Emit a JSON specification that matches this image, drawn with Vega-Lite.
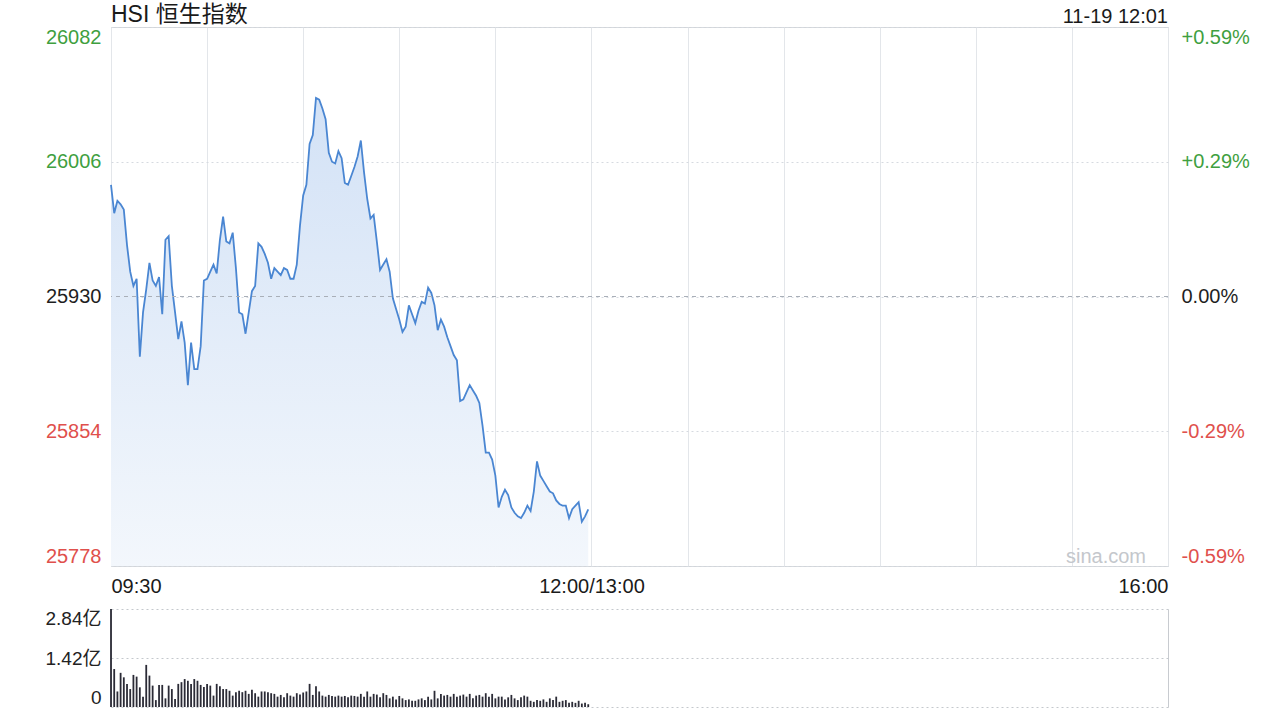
{
  "$schema": "https://vega.github.io/schema/vega-lite/v6.json",
  "background": "white",
  "padding": {"left": 38, "top": 3, "right": 10, "bottom": 8},
  "config": {
    "font": "Liberation Sans, Noto Sans CJK SC",
    "view": {"stroke": "#d2d5d9"},
    "axis": {"ticks": false, "domain": false, "title": null}
  },
  "bounds": "flush",
  "spacing": 43,
  "datasets": {
    "price": [
      {"t":0,"price":25993},{"t":1,"price":25977},{"t":2,"price":25984},{"t":3,"price":25982},{"t":4,"price":25979},
      {"t":5,"price":25959},{"t":6,"price":25944},{"t":7,"price":25936},{"t":8,"price":25940},{"t":9,"price":25896},
      {"t":10,"price":25921},{"t":11,"price":25934},{"t":12,"price":25949},{"t":13,"price":25939},{"t":14,"price":25936},
      {"t":15,"price":25941},{"t":16,"price":25920},{"t":17,"price":25962},{"t":18,"price":25964},{"t":19,"price":25936},
      {"t":20,"price":25921},{"t":21,"price":25906},{"t":22,"price":25916},{"t":23,"price":25904},{"t":24,"price":25880},
      {"t":25,"price":25904},{"t":26,"price":25889},{"t":27,"price":25889},{"t":28,"price":25902},{"t":29,"price":25939},
      {"t":30,"price":25940},{"t":31,"price":25944},{"t":32,"price":25948},{"t":33,"price":25943},{"t":34,"price":25962},
      {"t":35,"price":25975},{"t":36,"price":25961},{"t":37,"price":25960},{"t":38,"price":25966},{"t":39,"price":25946},
      {"t":40,"price":25921},{"t":41,"price":25920},{"t":42,"price":25909},{"t":43,"price":25921},{"t":44,"price":25933},
      {"t":45,"price":25936},{"t":46,"price":25960},{"t":47,"price":25958},{"t":48,"price":25954},{"t":49,"price":25949},
      {"t":50,"price":25940},{"t":51,"price":25946},{"t":52,"price":25944},{"t":53,"price":25942},{"t":54,"price":25946},
      {"t":55,"price":25945},{"t":56,"price":25940},{"t":57,"price":25940},{"t":58,"price":25948},{"t":59,"price":25970},
      {"t":60,"price":25987},{"t":61,"price":25993},{"t":62,"price":26016},{"t":63,"price":26021},{"t":64,"price":26042},
      {"t":65,"price":26041},{"t":66,"price":26036},{"t":67,"price":26030},{"t":68,"price":26011},{"t":69,"price":26006},
      {"t":70,"price":26005},{"t":71,"price":26012},{"t":72,"price":26008},{"t":73,"price":25994},{"t":74,"price":25993},
      {"t":75,"price":25998},{"t":76,"price":26003},{"t":77,"price":26009},{"t":78,"price":26018},{"t":79,"price":26000},
      {"t":80,"price":25985},{"t":81,"price":25974},{"t":82,"price":25976},{"t":83,"price":25961},{"t":84,"price":25945},
      {"t":85,"price":25948},{"t":86,"price":25951},{"t":87,"price":25944},{"t":88,"price":25929},{"t":89,"price":25923},
      {"t":90,"price":25917},{"t":91,"price":25910},{"t":92,"price":25913},{"t":93,"price":25925},{"t":94,"price":25920},
      {"t":95,"price":25915},{"t":96,"price":25922},{"t":97,"price":25927},{"t":98,"price":25926},{"t":99,"price":25935},
      {"t":100,"price":25932},{"t":101,"price":25925},{"t":102,"price":25911},{"t":103,"price":25917},{"t":104,"price":25913},
      {"t":105,"price":25907},{"t":106,"price":25902},{"t":107,"price":25897},{"t":108,"price":25894},{"t":109,"price":25871},
      {"t":110,"price":25872},{"t":111,"price":25876},{"t":112,"price":25880},{"t":113,"price":25877},{"t":114,"price":25874},
      {"t":115,"price":25870},{"t":116,"price":25857},{"t":117,"price":25842},{"t":118,"price":25842},{"t":119,"price":25838},
      {"t":120,"price":25829},{"t":121,"price":25811},{"t":122,"price":25817},{"t":123,"price":25821},{"t":124,"price":25818},
      {"t":125,"price":25811},{"t":126,"price":25808},{"t":127,"price":25806},{"t":128,"price":25805},{"t":129,"price":25808},
      {"t":130,"price":25812},{"t":131,"price":25809},{"t":132,"price":25820},{"t":133,"price":25837},{"t":134,"price":25829},
      {"t":135,"price":25826},{"t":136,"price":25823},{"t":137,"price":25820},{"t":138,"price":25819},{"t":139,"price":25815},
      {"t":140,"price":25813},{"t":141,"price":25812},{"t":142,"price":25812},{"t":143,"price":25805},{"t":144,"price":25810},
      {"t":145,"price":25812},{"t":146,"price":25814},{"t":147,"price":25803},{"t":148,"price":25806},{"t":149,"price":25810}
    ],
    "vol": [
      {"t":0,"v":2.84},{"t":1,"v":1.10},{"t":2,"v":0.45},{"t":3,"v":0.99},{"t":4,"v":0.86},{"t":5,"v":0.67},{"t":6,"v":0.52},{"t":7,"v":0.93},{"t":8,"v":0.88},{"t":9,"v":0.57},
      {"t":10,"v":0.30},{"t":11,"v":1.22},{"t":12,"v":0.91},{"t":13,"v":0.62},{"t":14,"v":0.20},{"t":15,"v":0.64},{"t":16,"v":0.64},{"t":17,"v":0.25},{"t":18,"v":0.62},{"t":19,"v":0.52},
      {"t":20,"v":0.23},{"t":21,"v":0.67},{"t":22,"v":0.72},{"t":23,"v":0.81},{"t":24,"v":0.76},{"t":25,"v":0.67},{"t":26,"v":0.81},{"t":27,"v":0.76},{"t":28,"v":0.64},{"t":29,"v":0.58},
      {"t":30,"v":0.67},{"t":31,"v":0.62},{"t":32,"v":0.33},{"t":33,"v":0.67},{"t":34,"v":0.60},{"t":35,"v":0.52},{"t":36,"v":0.52},{"t":37,"v":0.47},{"t":38,"v":0.33},{"t":39,"v":0.43},
      {"t":40,"v":0.47},{"t":41,"v":0.43},{"t":42,"v":0.47},{"t":43,"v":0.38},{"t":44,"v":0.50},{"t":45,"v":0.40},{"t":46,"v":0.30},{"t":47,"v":0.45},{"t":48,"v":0.45},{"t":49,"v":0.43},
      {"t":50,"v":0.40},{"t":51,"v":0.38},{"t":52,"v":0.30},{"t":53,"v":0.35},{"t":54,"v":0.28},{"t":55,"v":0.40},{"t":56,"v":0.33},{"t":57,"v":0.30},{"t":58,"v":0.40},{"t":59,"v":0.36},
      {"t":60,"v":0.42},{"t":61,"v":0.45},{"t":62,"v":0.67},{"t":63,"v":0.35},{"t":64,"v":0.60},{"t":65,"v":0.45},{"t":66,"v":0.33},{"t":67,"v":0.30},{"t":68,"v":0.35},{"t":69,"v":0.32},
      {"t":70,"v":0.30},{"t":71,"v":0.33},{"t":72,"v":0.30},{"t":73,"v":0.32},{"t":74,"v":0.28},{"t":75,"v":0.33},{"t":76,"v":0.32},{"t":77,"v":0.30},{"t":78,"v":0.38},{"t":79,"v":0.30},
      {"t":80,"v":0.45},{"t":81,"v":0.30},{"t":82,"v":0.38},{"t":83,"v":0.36},{"t":84,"v":0.28},{"t":85,"v":0.40},{"t":86,"v":0.35},{"t":87,"v":0.25},{"t":88,"v":0.30},{"t":89,"v":0.22},
      {"t":90,"v":0.32},{"t":91,"v":0.25},{"t":92,"v":0.20},{"t":93,"v":0.22},{"t":94,"v":0.18},{"t":95,"v":0.18},{"t":96,"v":0.22},{"t":97,"v":0.25},{"t":98,"v":0.20},{"t":99,"v":0.30},
      {"t":100,"v":0.22},{"t":101,"v":0.47},{"t":102,"v":0.25},{"t":103,"v":0.38},{"t":104,"v":0.33},{"t":105,"v":0.35},{"t":106,"v":0.30},{"t":107,"v":0.38},{"t":108,"v":0.30},{"t":109,"v":0.33},
      {"t":110,"v":0.36},{"t":111,"v":0.30},{"t":112,"v":0.38},{"t":113,"v":0.25},{"t":114,"v":0.33},{"t":115,"v":0.35},{"t":116,"v":0.30},{"t":117,"v":0.40},{"t":118,"v":0.30},{"t":119,"v":0.38},
      {"t":120,"v":0.25},{"t":121,"v":0.30},{"t":122,"v":0.30},{"t":123,"v":0.22},{"t":124,"v":0.28},{"t":125,"v":0.35},{"t":126,"v":0.25},{"t":127,"v":0.20},{"t":128,"v":0.28},{"t":129,"v":0.33},
      {"t":130,"v":0.30},{"t":131,"v":0.18},{"t":132,"v":0.15},{"t":133,"v":0.20},{"t":134,"v":0.18},{"t":135,"v":0.22},{"t":136,"v":0.15},{"t":137,"v":0.25},{"t":138,"v":0.20},{"t":139,"v":0.30},
      {"t":140,"v":0.15},{"t":141,"v":0.18},{"t":142,"v":0.20},{"t":143,"v":0.12},{"t":144,"v":0.15},{"t":145,"v":0.12},{"t":146,"v":0.18},{"t":147,"v":0.10},{"t":148,"v":0.12},{"t":149,"v":0.08}
    ]
  },
  "vconcat": [
    {
      "width": 1057,
      "height": 539,
      "view": {"stroke": "#d2d5d9"},
      "layer": [
        {
          "data": {"name": "price"},
          "mark": {
            "type": "area",
            "color": {
              "gradient": "linear", "x1": 0, "y1": 0, "x2": 0, "y2": 1,
              "stops": [{"offset": 0, "color": "#d3e2f6"}, {"offset": 1, "color": "#f3f7fc"}]
            }
          },
          "encoding": {
            "x": {
              "field": "t", "type": "quantitative",
              "scale": {"domain": [0, 330], "nice": false, "zero": false},
              "axis": {
                "values": [0, 30, 60, 90, 120, 150, 180, 210, 240, 270, 300, 330],
                "labelExpr": "datum.value == 0 ? '09:30' : datum.value == 150 ? '12:00/13:00' : datum.value == 330 ? '16:00' : ''",
                "labelFlush": true, "labelOverlap": false, "labelPadding": 10,
                "labelFontSize": 20, "labelColor": "#1a1a1a",
                "grid": true, "gridColor": "#e3e6ea", "title": null
              }
            },
            "y": {
              "field": "price", "type": "quantitative",
              "scale": {"domain": [25778, 26082], "nice": false, "zero": false},
              "axis": {
                "orient": "left",
                "values": [25778, 25854, 25930, 26006, 26082],
                "format": "d", "labelFlush": true, "labelPadding": 10, "labelFontSize": 20,
                "labelColor": {"condition": [{"test": "datum.value > 25931", "value": "#3f9f3f"}, {"test": "datum.value < 25929", "value": "#e0504c"}], "value": "#1f1f1f"},
                "grid": true, "gridColor": "#d6dae0", "gridDash": [2, 3],
                "minExtent": 72, "title": null
              }
            },
            "y2": {"datum": 25778}
          }
        },
        {
          "data": {"name": "price"},
          "mark": {"type": "line", "color": "#4a86d2", "strokeWidth": 1.8},
          "encoding": {
            "x": {"field": "t", "type": "quantitative"},
            "y": {
              "field": "price", "type": "quantitative",
              "axis": {
                "orient": "right",
                "values": [25778, 25854, 25930, 26006, 26082],
                "labelExpr": "datum.value > 25931 ? '+' + format((datum.value - 25930) / 25930 * 100, '.2f') + '%' : datum.value < 25929 ? '-' + format((25930 - datum.value) / 25930 * 100, '.2f') + '%' : '0.00%'",
                "labelFlush": true, "labelPadding": 13, "labelFontSize": 20,
                "labelColor": {"condition": [{"test": "datum.value > 25931", "value": "#3f9f3f"}, {"test": "datum.value < 25929", "value": "#e0504c"}], "value": "#1f1f1f"},
                "grid": false, "title": null
              }
            }
          }
        },
        {
          "data": {"values": [{}]},
          "mark": {"type": "rule", "color": "#a9afb8", "strokeDash": [4, 4], "strokeWidth": 1},
          "encoding": {"y": {"datum": 25930, "type": "quantitative", "axis": null}}
        },
        {
          "data": {"values": [{}]},
          "mark": {"type": "text", "align": "left", "baseline": "alphabetic", "dy": -5, "fontSize": 23, "color": "#1a1a1a"},
          "encoding": {
            "x": {"datum": 0, "type": "quantitative"},
            "y": {"datum": 26082, "type": "quantitative", "axis": null},
            "text": {"value": "HSI 恒生指数"}
          }
        },
        {
          "data": {"values": [{}]},
          "mark": {"type": "text", "align": "right", "baseline": "alphabetic", "dy": -4, "fontSize": 20, "color": "#1a1a1a"},
          "encoding": {
            "x": {"datum": 330, "type": "quantitative"},
            "y": {"datum": 26082, "type": "quantitative", "axis": null},
            "text": {"value": "11-19 12:01"}
          }
        },
        {
          "data": {"values": [{}]},
          "mark": {"type": "text", "align": "right", "baseline": "alphabetic", "dx": -22, "dy": -3, "fontSize": 20, "color": "#c4c7cc"},
          "encoding": {
            "x": {"datum": 330, "type": "quantitative"},
            "y": {"datum": 25778, "type": "quantitative", "axis": null},
            "text": {"value": "sina.com"}
          }
        }
      ],
      "resolve": {"axis": {"y": "independent"}}
    },
    {
      "width": 1057,
      "height": 98,
      "view": {"stroke": null},
      "data": {"name": "vol"},
      "mark": {"type": "bar", "size": 1.8, "color": "#2b2b36"},
      "encoding": {
        "x": {
          "field": "t", "type": "quantitative",
          "scale": {"domain": [0, 330], "nice": false, "zero": false, "padding": 0},
          "axis": {"values": [0, 330], "grid": true, "gridColor": "#c8cbd0", "labels": false, "title": null}
        },
        "y": {
          "field": "v", "type": "quantitative",
          "scale": {"domain": [0, 2.84], "nice": false},
          "axis": {
            "values": [0, 1.42, 2.84],
            "labelExpr": "datum.value == 0 ? '0' : format(datum.value, '.2f') + '亿'",
            "labelFlush": true, "labelPadding": 10, "labelFontSize": 19, "labelColor": "#222222",
            "grid": true, "gridColor": "#c4c8cd", "gridDash": [2, 3],
            "minExtent": 72, "title": null
          }
        }
      }
    }
  ]
}
